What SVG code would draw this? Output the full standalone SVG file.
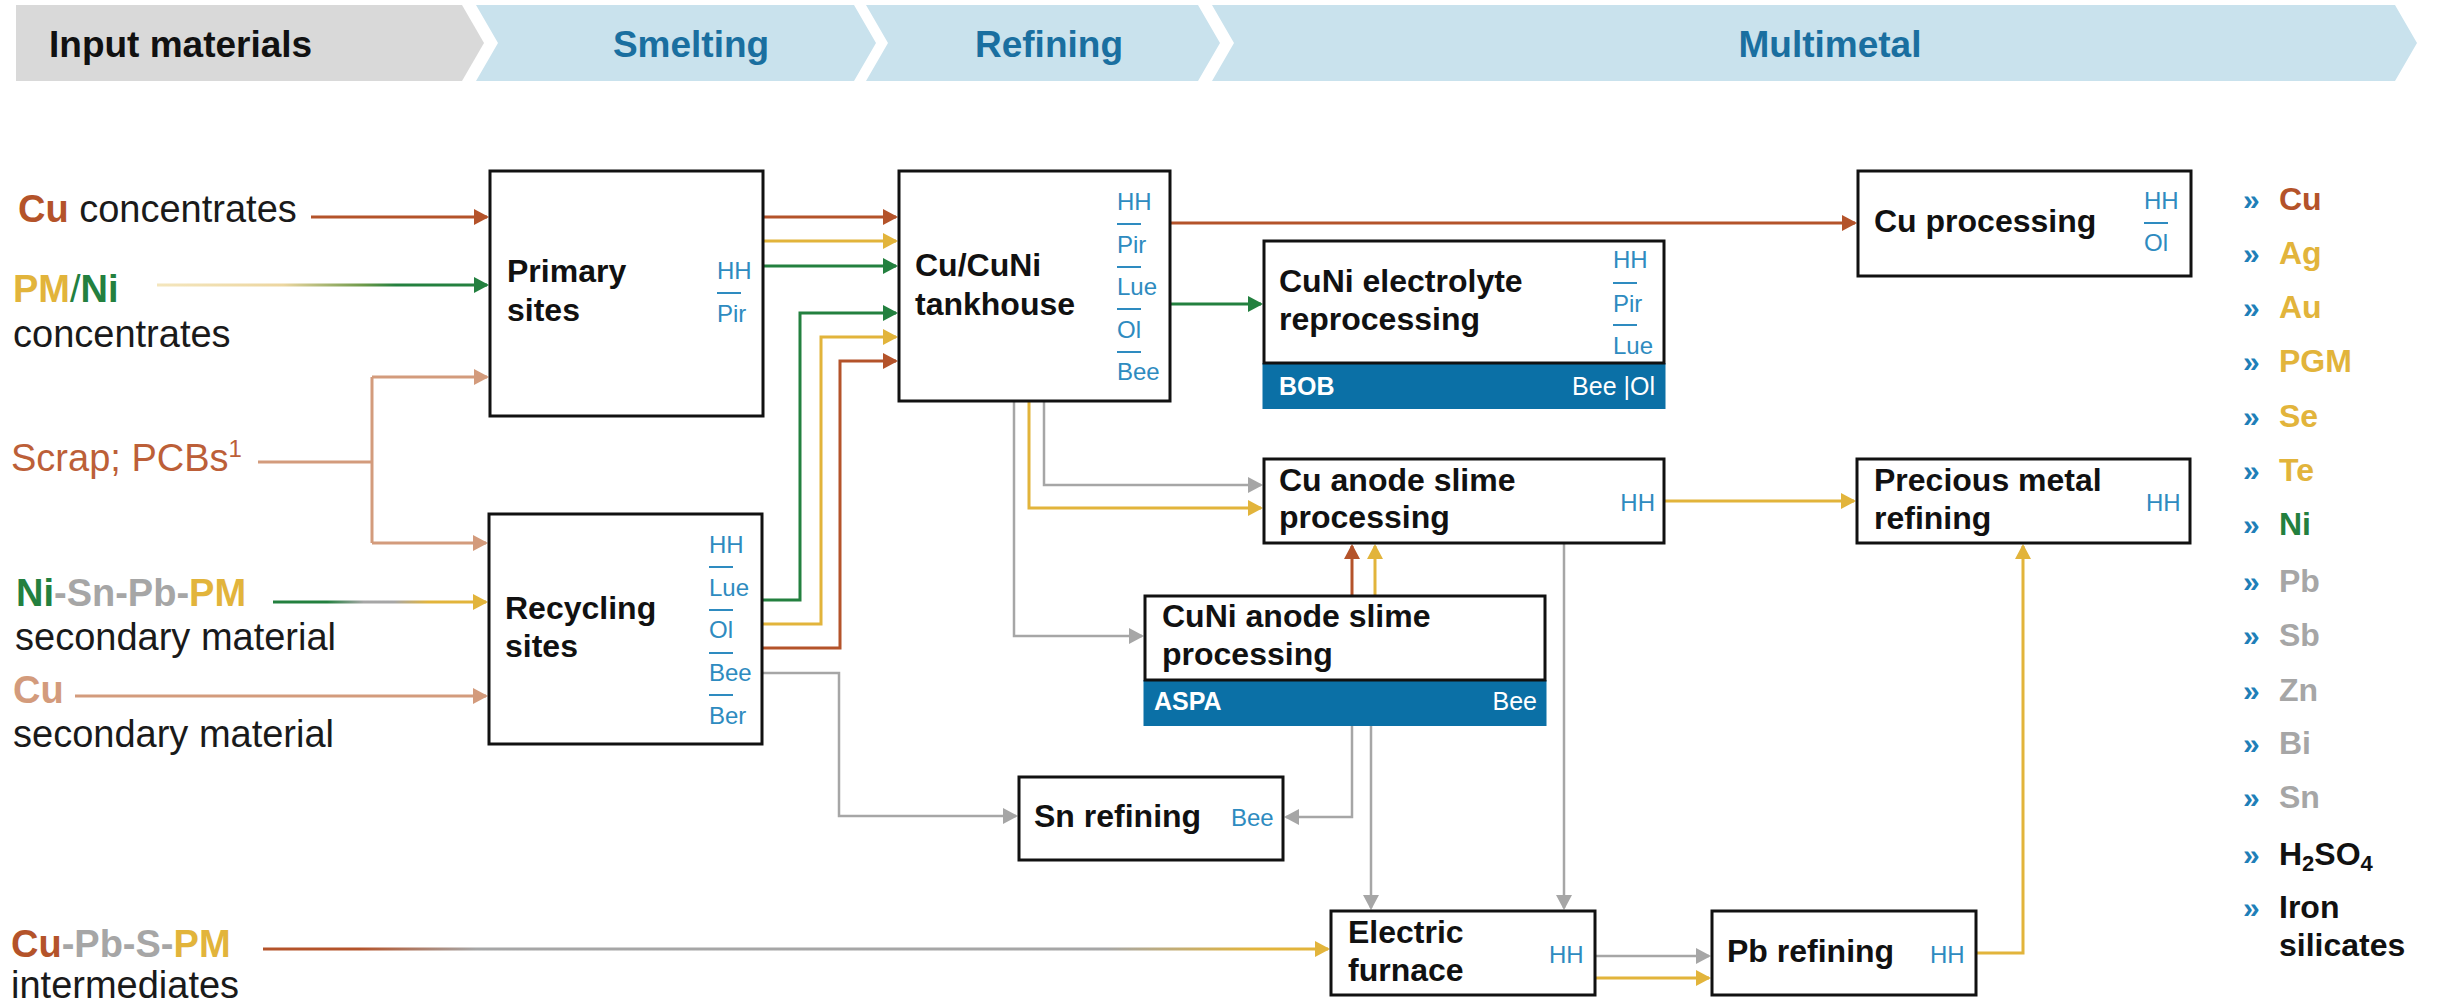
<svg xmlns="http://www.w3.org/2000/svg" width="2438" height="1005" viewBox="0 0 2438 1005">
<style>
text{font-family:"Liberation Sans",Arial,sans-serif}
.hd{font-size:37px;font-weight:bold}
.hb{fill:#1a6fa0}
.in{font-size:38px;fill:#1a1a1a}
.b{font-weight:bold}
.bx{fill:#fff;stroke:#111;stroke-width:3}
.bt{font-size:32px;font-weight:bold;fill:#111}
.lb{font-size:24px;fill:#2e8bc0}
.bar{stroke:#2e8bc0;stroke-width:2}
.band{fill:#0b70a6}
.wt{font-size:25px;fill:#fff}
.lg{font-size:32px;font-weight:bold}
.ch{font-size:30px;font-weight:bold;fill:#1f7fb8}
.rust{fill:#b4532a}.yel{fill:#e2b43b}.grn{fill:#23803f}.gry{fill:#a6a6a6}.tan{fill:#d39b7c}.blk{fill:#111}
.c{fill:none;stroke-width:3}
.cr{stroke:#b4532a}.cy{stroke:#e2b43b}.cg{stroke:#23803f}.cgr{stroke:#a6a6a6;stroke-width:2.5}.ct{stroke:#d39b7c}
</style>
<defs>
<marker id="mr" markerWidth="16" markerHeight="16" refX="13" refY="8" orient="auto" markerUnits="userSpaceOnUse"><path d="M0,0 L15,8 L0,16 z" fill="#b4532a"/></marker>
<marker id="my" markerWidth="16" markerHeight="16" refX="13" refY="8" orient="auto" markerUnits="userSpaceOnUse"><path d="M0,0 L15,8 L0,16 z" fill="#e2b43b"/></marker>
<marker id="mg" markerWidth="16" markerHeight="16" refX="13" refY="8" orient="auto" markerUnits="userSpaceOnUse"><path d="M0,0 L15,8 L0,16 z" fill="#23803f"/></marker>
<marker id="mgr" markerWidth="16" markerHeight="16" refX="13" refY="8" orient="auto" markerUnits="userSpaceOnUse"><path d="M0,0 L15,8 L0,16 z" fill="#a6a6a6"/></marker>
<marker id="mt" markerWidth="16" markerHeight="16" refX="13" refY="8" orient="auto" markerUnits="userSpaceOnUse"><path d="M0,0 L15,8 L0,16 z" fill="#d39b7c"/></marker>
<linearGradient id="gPN" gradientUnits="userSpaceOnUse" x1="157" y1="0" x2="489" y2="0">
<stop offset="0" stop-color="#f4e6bd"/><stop offset="0.38" stop-color="#ecd6a0"/><stop offset="0.62" stop-color="#6e9a4a"/><stop offset="0.72" stop-color="#23803f"/><stop offset="1" stop-color="#23803f"/>
</linearGradient>
<linearGradient id="gNi" gradientUnits="userSpaceOnUse" x1="273" y1="0" x2="489" y2="0">
<stop offset="0" stop-color="#23803f"/><stop offset="0.25" stop-color="#23803f"/><stop offset="0.42" stop-color="#a6a6a6"/><stop offset="0.56" stop-color="#a6a6a6"/><stop offset="0.72" stop-color="#e2b43b"/><stop offset="1" stop-color="#e2b43b"/>
</linearGradient>
<linearGradient id="gCu" gradientUnits="userSpaceOnUse" x1="263" y1="0" x2="1330" y2="0">
<stop offset="0" stop-color="#b4532a"/><stop offset="0.09" stop-color="#b4532a"/><stop offset="0.2" stop-color="#a6a6a6"/><stop offset="0.79" stop-color="#a6a6a6"/><stop offset="0.93" stop-color="#e2b43b"/><stop offset="1" stop-color="#e2b43b"/>
</linearGradient>
</defs>
<rect width="2438" height="1005" fill="#fff"/>

<g id="header">
<polygon points="16,5 462,5 484,43 462,81 16,81" fill="#d9d9d9"/>
<polygon points="476,5 854,5 876,43 854,81 476,81 498,43" fill="#c9e2ed"/>
<polygon points="866,5 1198,5 1220,43 1198,81 866,81 888,43" fill="#c9e2ed"/>
<polygon points="1212,5 2395,5 2417,43 2395,81 1212,81 1234,43" fill="#c9e2ed"/>
<text class="hd" x="49" y="57" fill="#111">Input materials</text>
<text class="hd hb" x="691" y="57" text-anchor="middle">Smelting</text>
<text class="hd hb" x="1049" y="57" text-anchor="middle">Refining</text>
<text class="hd hb" x="1830" y="57" text-anchor="middle">Multimetal</text>
</g>

<g id="inputs">
<text class="in" x="18" y="222"><tspan class="b rust">Cu</tspan> concentrates</text>
<text class="in" x="13" y="302"><tspan class="b yel">PM</tspan><tspan class="grn">/</tspan><tspan class="b grn">Ni</tspan></text>
<text class="in" x="13" y="347">concentrates</text>
<text class="in" x="11" y="471" style="fill:#bc5f38">Scrap; PCBs<tspan font-size="24" dy="-14">1</tspan></text>
<text class="in b" x="16" y="606"><tspan class="grn">Ni</tspan><tspan class="gry">-Sn-Pb-</tspan><tspan class="yel">PM</tspan></text>
<text class="in" x="15" y="650">secondary material</text>
<text class="in b tan" x="13" y="703">Cu</text>
<text class="in" x="13" y="747">secondary material</text>
<text class="in b" x="11" y="957"><tspan class="rust">Cu</tspan><tspan class="gry">-Pb-S-</tspan><tspan class="yel">PM</tspan></text>
<text class="in" x="11" y="998">intermediates</text>
</g>

<g id="connectors">
<line class="c cr" x1="311" y1="217" x2="487" y2="217" marker-end="url(#mr)"/>
<line class="c" stroke="url(#gPN)" x1="157" y1="285" x2="487" y2="285" marker-end="url(#mg)"/>
<polyline class="c ct" points="258,462 372,462"/>
<line class="c ct" x1="372" y1="377" x2="372" y2="543"/>
<polyline class="c ct" points="372,377 487,377" marker-end="url(#mt)"/>
<polyline class="c ct" points="372,543 486,543" marker-end="url(#mt)"/>
<line class="c" stroke="url(#gNi)" x1="273" y1="602" x2="486" y2="602" marker-end="url(#my)"/>
<line class="c ct" x1="75" y1="696" x2="486" y2="696" marker-end="url(#mt)"/>
<line class="c" stroke="url(#gCu)" x1="263" y1="949" x2="1328" y2="949" marker-end="url(#my)"/>

<line class="c cr" x1="764" y1="217" x2="896" y2="217" marker-end="url(#mr)"/>
<line class="c cy" x1="764" y1="241" x2="896" y2="241" marker-end="url(#my)"/>
<line class="c cg" x1="764" y1="266" x2="896" y2="266" marker-end="url(#mg)"/>

<polyline class="c cg" points="763,600 800,600 800,313 896,313" marker-end="url(#mg)"/>
<polyline class="c cy" points="763,624 821,624 821,337 896,337" marker-end="url(#my)"/>
<polyline class="c cr" points="763,648 840,648 840,361 896,361" marker-end="url(#mr)"/>
<polyline class="c cgr" points="763,673 839,673 839,816 1016,816" marker-end="url(#mgr)"/>

<polyline class="c cgr" points="1014,402 1014,636 1142,636" marker-end="url(#mgr)"/>
<polyline class="c cy" points="1029,402 1029,508 1261,508" marker-end="url(#my)"/>
<polyline class="c cgr" points="1044,402 1044,485 1261,485" marker-end="url(#mgr)"/>

<line class="c cr" x1="1171" y1="223" x2="1855" y2="223" marker-end="url(#mr)"/>
<line class="c cg" x1="1171" y1="304" x2="1261" y2="304" marker-end="url(#mg)"/>

<line class="c cr" x1="1352" y1="595" x2="1352" y2="546" marker-end="url(#mr)"/>
<line class="c cy" x1="1375" y1="595" x2="1375" y2="546" marker-end="url(#my)"/>

<line class="c cy" x1="1665" y1="501" x2="1854" y2="501" marker-end="url(#my)"/>
<line class="c cgr" x1="1564" y1="544" x2="1564" y2="908" marker-end="url(#mgr)"/>
<polyline class="c cgr" points="1352,726 1352,817 1286,817" marker-end="url(#mgr)"/>
<line class="c cgr" x1="1371" y1="726" x2="1371" y2="908" marker-end="url(#mgr)"/>

<line class="c cgr" x1="1596" y1="956" x2="1709" y2="956" marker-end="url(#mgr)"/>
<line class="c cy" x1="1596" y1="978" x2="1709" y2="978" marker-end="url(#my)"/>
<polyline class="c cy" points="1977,953 2023,953 2023,546" marker-end="url(#my)"/>
</g>

<g id="primary">
<rect class="bx" x="490" y="171" width="273" height="245"/>
<text class="bt" x="507" y="282">Primary</text>
<text class="bt" x="507" y="321">sites</text>
<text class="lb" x="717" y="279">HH</text>
<line class="bar" x1="717" y1="293" x2="741" y2="293"/>
<text class="lb" x="717" y="322">Pir</text>
</g>

<g id="recycling">
<rect class="bx" x="489" y="514" width="273" height="230"/>
<text class="bt" x="505" y="619">Recycling</text>
<text class="bt" x="505" y="657">sites</text>
<text class="lb" x="709" y="553">HH</text>
<line class="bar" x1="709" y1="567" x2="733" y2="567"/>
<text class="lb" x="709" y="596">Lue</text>
<line class="bar" x1="709" y1="610" x2="733" y2="610"/>
<text class="lb" x="709" y="638">Ol</text>
<line class="bar" x1="709" y1="653" x2="733" y2="653"/>
<text class="lb" x="709" y="681">Bee</text>
<line class="bar" x1="709" y1="695" x2="733" y2="695"/>
<text class="lb" x="709" y="724">Ber</text>
</g>

<g id="tankhouse">
<rect class="bx" x="899" y="171" width="271" height="230"/>
<text class="bt" x="915" y="276">Cu/CuNi</text>
<text class="bt" x="915" y="315">tankhouse</text>
<text class="lb" x="1117" y="210">HH</text>
<line class="bar" x1="1117" y1="224" x2="1141" y2="224"/>
<text class="lb" x="1117" y="253">Pir</text>
<line class="bar" x1="1117" y1="267" x2="1141" y2="267"/>
<text class="lb" x="1117" y="295">Lue</text>
<line class="bar" x1="1117" y1="309" x2="1141" y2="309"/>
<text class="lb" x="1117" y="338">Ol</text>
<line class="bar" x1="1117" y1="352" x2="1141" y2="352"/>
<text class="lb" x="1117" y="380">Bee</text>
</g>

<g id="cuni-electrolyte">
<rect class="band" x="1262.5" y="363" width="403" height="46"/>
<rect class="bx" x="1264" y="241" width="400" height="122"/>
<text class="bt" x="1279" y="292">CuNi electrolyte</text>
<text class="bt" x="1279" y="330">reprocessing</text>
<text class="lb" x="1613" y="268">HH</text>
<line class="bar" x1="1613" y1="283" x2="1637" y2="283"/>
<text class="lb" x="1613" y="312">Pir</text>
<line class="bar" x1="1613" y1="325" x2="1637" y2="325"/>
<text class="lb" x="1613" y="354">Lue</text>
<text class="wt b" x="1279" y="395">BOB</text>
<text class="wt" x="1655" y="395" text-anchor="end">Bee |Ol</text>
</g>

<g id="cu-anode-slime">
<rect class="bx" x="1264" y="459" width="400" height="84"/>
<text class="bt" x="1279" y="491">Cu anode slime</text>
<text class="bt" x="1279" y="528">processing</text>
<text class="lb" x="1655" y="511" text-anchor="end">HH</text>
</g>

<g id="cuni-anode-slime">
<rect class="band" x="1143.5" y="680" width="403" height="46"/>
<rect class="bx" x="1145" y="596" width="400" height="84"/>
<text class="bt" x="1162" y="627">CuNi anode slime</text>
<text class="bt" x="1162" y="665">processing</text>
<text class="wt b" x="1154" y="710">ASPA</text>
<text class="wt" x="1537" y="710" text-anchor="end">Bee</text>
</g>

<g id="sn-refining">
<rect class="bx" x="1019" y="777" width="264" height="83"/>
<text class="bt" x="1034" y="827">Sn refining</text>
<text class="lb" x="1231" y="826">Bee</text>
</g>

<g id="electric-furnace">
<rect class="bx" x="1331" y="911" width="264" height="84"/>
<text class="bt" x="1348" y="943">Electric</text>
<text class="bt" x="1348" y="981">furnace</text>
<text class="lb" x="1549" y="963">HH</text>
</g>

<g id="pb-refining">
<rect class="bx" x="1712" y="911" width="264" height="84"/>
<text class="bt" x="1727" y="962">Pb refining</text>
<text class="lb" x="1930" y="963">HH</text>
</g>

<g id="cu-processing">
<rect class="bx" x="1858" y="171" width="333" height="105"/>
<text class="bt" x="1874" y="232">Cu processing</text>
<text class="lb" x="2144" y="209">HH</text>
<line class="bar" x1="2144" y1="223" x2="2168" y2="223"/>
<text class="lb" x="2144" y="251">Ol</text>
</g>

<g id="precious-metal">
<rect class="bx" x="1857" y="459" width="333" height="84"/>
<text class="bt" x="1874" y="491">Precious metal</text>
<text class="bt" x="1874" y="529">refining</text>
<text class="lb" x="2146" y="511">HH</text>
</g>

<g id="legend">
<text class="ch" x="2243" y="210">»</text><text class="lg rust" x="2279" y="210">Cu</text>
<text class="ch" x="2243" y="264">»</text><text class="lg yel" x="2279" y="264">Ag</text>
<text class="ch" x="2243" y="318">»</text><text class="lg yel" x="2279" y="318">Au</text>
<text class="ch" x="2243" y="372">»</text><text class="lg yel" x="2279" y="372">PGM</text>
<text class="ch" x="2243" y="427">»</text><text class="lg yel" x="2279" y="427">Se</text>
<text class="ch" x="2243" y="481">»</text><text class="lg yel" x="2279" y="481">Te</text>
<text class="ch" x="2243" y="535">»</text><text class="lg grn" x="2279" y="535">Ni</text>
<text class="ch" x="2243" y="592">»</text><text class="lg gry" x="2279" y="592">Pb</text>
<text class="ch" x="2243" y="646">»</text><text class="lg gry" x="2279" y="646">Sb</text>
<text class="ch" x="2243" y="701">»</text><text class="lg gry" x="2279" y="701">Zn</text>
<text class="ch" x="2243" y="754">»</text><text class="lg gry" x="2279" y="754">Bi</text>
<text class="ch" x="2243" y="808">»</text><text class="lg gry" x="2279" y="808">Sn</text>
<text class="ch" x="2243" y="865">»</text><text class="lg blk" x="2279" y="865">H<tspan font-size="22" dy="6">2</tspan><tspan dy="-6">SO</tspan><tspan font-size="22" dy="6">4</tspan></text>
<text class="ch" x="2243" y="918">»</text><text class="lg blk" x="2279" y="918">Iron</text>
<text class="lg blk" x="2279" y="956">silicates</text>
</g>
</svg>
